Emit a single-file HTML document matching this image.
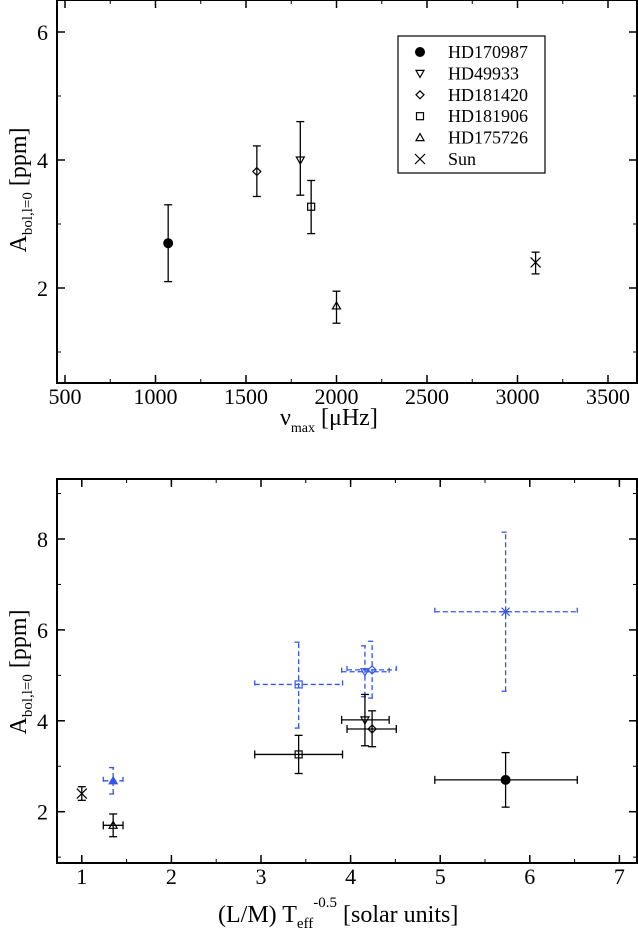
<!DOCTYPE html>
<html><head><meta charset="utf-8"><style>
html,body{margin:0;padding:0;background:#fff;}
svg{display:block;font-family:"Liberation Serif",serif;}
</style></head><body>
<svg id="chart" width="638" height="933" xmlns="http://www.w3.org/2000/svg">
<g id="top"></g>
<g id="bot"></g>
</svg>
<script>
const NS="http://www.w3.org/2000/svg";
// top panel data
const topNames=["HD170987","HD49933","HD181420","HD181906","HD175726","Sun"];
const topSym=["dot","tri-down","diamond","square","tri-up","cross"];
const topX=[1070,1800,1560,1860,2000,3100];
const topY=[2.7,4.0,3.82,3.27,1.72,2.4];
const topYlo=[2.1,3.45,3.43,2.85,1.45,2.22];
const topYhi=[3.3,4.6,4.22,3.68,1.95,2.56];
const topXTicks=[500,1000,1500,2000,2500,3000,3500];
const topYTicks=[2,4,6];
// bottom panel data (black)
const botSym=["cross","tri-up","square","tri-down","diamond","dot"];
const botX=[1.0,1.35,3.42,4.16,4.24,5.73];
const botXlo=[1.0,1.24,2.93,3.9,3.96,4.94];
const botXhi=[1.0,1.46,3.91,4.43,4.51,6.53];
const botY=[2.4,1.7,3.26,4.02,3.82,2.7];
const botYlo=[2.25,1.45,2.84,3.45,3.43,2.1];
const botYhi=[2.55,1.95,3.68,4.58,4.22,3.3];
// bottom panel data (blue)
const blueSym=["tri-up","square","tri-down","diamond","star"];
const blueX=[1.35,3.42,4.16,4.24,5.73];
const blueXlo=[1.24,2.93,3.9,3.96,4.94];
const blueXhi=[1.46,3.91,4.43,4.51,6.53];
const blueY=[2.68,4.8,5.08,5.12,6.4];
const blueYlo=[2.39,3.84,4.53,4.5,4.65];
const blueYhi=[2.97,5.73,5.65,5.75,8.15];
const botXTicks=[1,2,3,4,5,6,7];
const botYTicks=[2,4,6,8];

function el(p,t,a){const e=document.createElementNS(NS,t);for(const k in a)e.setAttribute(k,a[k]);p.appendChild(e);return e;}

function marker(g,s,x,y,col){
  const st={stroke:col,"stroke-width":1.2,fill:"none"};
  let e;
  if(s==="dot"){e=el(g,"circle",{cx:x,cy:y,r:4.5,fill:col,stroke:col});}
  else if(s==="tri-down"){e=el(g,"polygon",Object.assign({points:`${x-4},${y-3} ${x+4},${y-3} ${x},${y+4}`},st));}
  else if(s==="tri-up"){e=el(g,"polygon",Object.assign({points:`${x-4},${y+3} ${x+4},${y+3} ${x},${y-4}`},st));if(col!=="#000")e.setAttribute("fill",col);}
  else if(s==="diamond"){e=el(g,"polygon",Object.assign({points:`${x},${y-4} ${x+4},${y} ${x},${y+4} ${x-4},${y}`},st));}
  else if(s==="square"){e=el(g,"rect",Object.assign({x:x-3.5,y:y-3.5,width:7,height:7},st));}
  else if(s==="cross"){e=el(g,"path",Object.assign({d:`M${x-5},${y-5}L${x+5},${y+5}M${x-5},${y+5}L${x+5},${y-5}`},st));}
  else if(s==="star"){e=el(g,"path",Object.assign({d:`M${x-5},${y}L${x+5},${y}M${x},${y-5}L${x},${y+5}M${x-4},${y-4}L${x+4},${y+4}M${x-4},${y+4}L${x+4},${y-4}`},st));}
  return e;
}

function axes(g,L,R,T,B,sx,sy,xt,yt,xminor,yminor){
  el(g,"rect",{x:L,y:T,width:R-L,height:B-T,fill:"none",stroke:"#000","stroke-width":2});
  for(const v of xminor){const x=sx(v);if(x<L||x>R)continue;
    el(g,"line",{x1:x,x2:x,y1:B,y2:B-4,stroke:"#000","stroke-width":1});
    el(g,"line",{x1:x,x2:x,y1:T,y2:T+4,stroke:"#000","stroke-width":1});}
  for(const v of yminor){const y=sy(v);if(y<T||y>B)continue;
    el(g,"line",{x1:L,x2:L+4,y1:y,y2:y,stroke:"#000","stroke-width":1});
    el(g,"line",{x1:R,x2:R-4,y1:y,y2:y,stroke:"#000","stroke-width":1});}
  for(const v of xt){const x=sx(v);
    el(g,"line",{x1:x,x2:x,y1:B,y2:B-8,stroke:"#000","stroke-width":1.5});
    el(g,"line",{x1:x,x2:x,y1:T,y2:T+8,stroke:"#000","stroke-width":1.5});
    const t=el(g,"text",{x:x,y:B+21,"font-size":22,"text-anchor":"middle"});t.textContent=v;
    
    }
  for(const v of yt){const y=sy(v);
    el(g,"line",{x1:L,x2:L+8,y1:y,y2:y,stroke:"#000","stroke-width":1.5});
    el(g,"line",{x1:R,x2:R-8,y1:y,y2:y,stroke:"#000","stroke-width":1.5});
    const t=el(g,"text",{x:L-9,y:y+8,"font-size":22,"text-anchor":"end"});t.textContent=v;
    
    }
}

function errbar(g,x,y1,y2,col,dash,cap){
  const a={stroke:col,"stroke-width":1.3};if(dash)a["stroke-dasharray"]="5,3";
  el(g,"line",Object.assign({x1:x,x2:x,y1:y1,y2:y2},a));
  el(g,"line",Object.assign({x1:x-cap,x2:x+cap,y1:y1,y2:y1},a));
  el(g,"line",Object.assign({x1:x-cap,x2:x+cap,y1:y2,y2:y2},a));
}
function herr(g,y,x1,x2,col,dash,cap){
  const a={stroke:col,"stroke-width":1.3};if(dash)a["stroke-dasharray"]="5,3";
  el(g,"line",Object.assign({x1:x1,x2:x2,y1:y,y2:y},a));
  el(g,"line",Object.assign({x1:x1,x2:x1,y1:y-cap,y2:y+cap},a));
  el(g,"line",Object.assign({x1:x2,x2:x2,y1:y-cap,y2:y+cap},a));
}

// TOP
(function(){
  const g=document.getElementById("top");
  const L=57,R=637,T=0,B=383;
  const sx=v=>65+(v-500)*(90.5/500), sy=v=>32+(6-v)*64;
  const xm=[];for(let v=500;v<=3750;v+=250)xm.push(v);
  const ym=[];for(let v=1;v<=6;v++)ym.push(v);
  axes(g,L,R,T,B,sx,sy,topXTicks,topYTicks,xm,ym);
  for(let i=0;i<topX.length;i++){
    const pg=el(g,"g",{});
    
    
    errbar(pg,sx(topX[i]),sy(topYlo[i]),sy(topYhi[i]),"#000",false,4);
    marker(pg,topSym[i],sx(topX[i]),sy(topY[i]),"#000");
  }
  const lg=el(g,"g",{});
  
  
  el(lg,"rect",{x:398,y:36,width:147,height:137,fill:"#fff",stroke:"#000","stroke-width":1.2});
  for(let i=0;i<topNames.length;i++){
    const y=52+i*21.4;
    const eg=el(lg,"g",{});
    
    
    marker(eg,topSym[i],420,y,"#000");
    const t=el(eg,"text",{x:448,y:y+6,"font-size":18});t.textContent=topNames[i];
  }
  const xl=el(g,"text",{x:280,y:425,"font-size":24});
  xl.innerHTML='ν<tspan font-size="14" dy="7">max</tspan><tspan dy="-7"> [μHz]</tspan>';
  
  
  const yl=el(g,"text",{x:0,y:0,"font-size":24,"text-anchor":"middle",transform:"translate(26,190) rotate(-90)"});
  yl.innerHTML='A<tspan font-size="15" dy="6">bol,l=0</tspan><tspan dy="-6"> [ppm]</tspan>';
  
  
})();

// BOTTOM
(function(){
  const g=document.getElementById("bot");
  const L=57,R=637,T=479,B=863;
  const sx=v=>81.8+(v-1)*89.6, sy=v=>539+(8-v)*45.45;
  const xm=[];for(let v=1;v<=7.5;v+=0.5)xm.push(v);
  const ym=[];for(let v=1;v<=9;v++)ym.push(v);
  axes(g,L,R,T,B,sx,sy,botXTicks,botYTicks,xm,ym);
  for(let i=0;i<blueX.length;i++){
    const pg=el(g,"g",{});
    
    
    const c="#3355ee";
    errbar(pg,sx(blueX[i]),sy(blueYlo[i]),sy(blueYhi[i]),c,true,4);
    herr(pg,sy(blueY[i]),sx(blueXlo[i]),sx(blueXhi[i]),c,true,4);
    marker(pg,blueSym[i],sx(blueX[i]),sy(blueY[i]),c);
  }
  for(let i=0;i<botX.length;i++){
    const pg=el(g,"g",{});
    
    
    errbar(pg,sx(botX[i]),sy(botYlo[i]),sy(botYhi[i]),"#000",false,4);
    if(botXhi[i]>botXlo[i])herr(pg,sy(botY[i]),sx(botXlo[i]),sx(botXhi[i]),"#000",false,4);
    marker(pg,botSym[i],sx(botX[i]),sy(botY[i]),"#000");
  }
  const xl=el(g,"text",{x:218,y:922,"font-size":24});
  xl.innerHTML='(L/M) T<tspan font-size="15" dy="6">eff</tspan><tspan font-size="15" dy="-21">-0.5</tspan><tspan dy="15"> [solar units]</tspan>';
  
  
  const yl=el(g,"text",{x:0,y:0,"font-size":24,"text-anchor":"middle",transform:"translate(26,672) rotate(-90)"});
  yl.innerHTML='A<tspan font-size="15" dy="6">bol,l=0</tspan><tspan dy="-6"> [ppm]</tspan>';
  
  
})();
</script>
</body></html>
